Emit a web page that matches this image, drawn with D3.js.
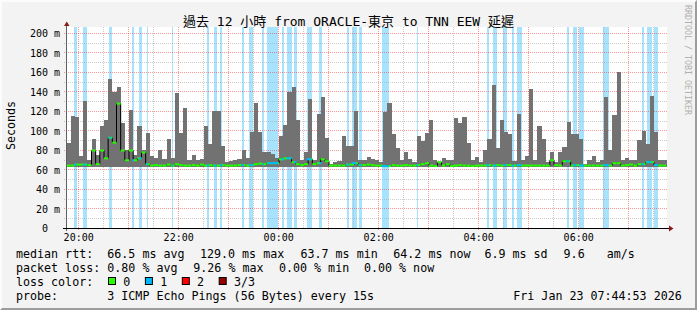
<!DOCTYPE html>
<html>
<head>
<meta charset="utf-8">
<script src="https://cdnjs.cloudflare.com/ajax/libs/d3/7.8.5/d3.min.js"></script>
<style>
body { margin: 0; background: #f3f3f3; }
svg text { font-family: "DejaVu Sans Mono", "Noto Sans CJK TC", monospace; }
</style>
</head>
<body>
<div id="chart"></div>
<script>
// graph window and 5 minute steps
const startTime = new Date(2026, 0, 22, 19, 46, 0);
const spanMinutes = 720;
const stepMinutes = 5;
const yTop = 205.1;
const smokeFloor = 63;

// top of the grey smoke per step (ms)
const smokeMax = [
  88, 115, 114, 74, 131, 70, 92, 75, 105, 111, 153, 140, 145, 108, 80, 122, 75, 105, 80, 98,
  74, 72, 80, 71, 92, 72, 139, 98, 124, 70, 75, 70, 71, 105, 87, 121, 120, 85, 68, 69,
  70, 71, 81, 72, 99, 129, 99, 78, 78, 76, 72, 95, 106, 140, 145, 111, 70, 78, 133, 70,
  117, 135, 93, 66, 68, 69, 95, 85, 85, 121, 70, 70, 73, 71, 70, 68, 119, 129, 97, 83,
  70, 78, 71, 68, 95, 90, 98, 111, 70, 68, 72, 70, 70, 113, 108, 114, 88, 70, 73, 68,
  81, 92, 147, 83, 111, 99, 97, 69, 117, 70, 74, 143, 70, 105, 92, 68, 78, 68, 78, 84,
  109, 97, 97, 92, 66, 70, 74, 68, 70, 135, 80, 116, 161, 70, 72, 70, 70, 91, 100, 87,
  136, 99, 70, 70
];

// median rtt per step (ms)
const medianRtt = [
  64.5, 64.5, 65.5, 65.5, 65.5, 65, 80, 66, 80, 72, 93, 88, 128, 80, 70, 80, 70, 72, 78, 66,
  64.5, 65, 64.5, 64.5, 65.5, 64.5, 66, 65, 64.5, 64.5, 65, 64.5, 65.5, 64.5, 65, 64.5, 64.5, 65, 64.5, 64.5,
  64.5, 65, 65, 64.5, 65, 66, 66.5, 66, 67, 67, 67, 71, 72, 72, 68, 66, 65, 66, 71, 66,
  67, 71, 69, 64.5, 64.5, 64.5, 64.5, 65.5, 65.5, 67, 65, 65, 65.5, 65, 64.5, 64.5, 64, 64, 65, 64.5,
  64.5, 65, 64.5, 64.5, 65, 66, 67, 64.5, 64, 68, 64.5, 66, 64, 64.5, 65, 64.5, 64.5, 64, 64.5, 64.5,
  64.5, 65, 64.5, 65, 64.5, 65, 65, 64.5, 65, 64.5, 64.5, 64.5, 64.5, 64.5, 64.5, 64.5, 70, 65, 64.5, 69,
  69, 64.5, 65, 64.5, 64.5, 64.5, 64.5, 64.5, 64.5, 65, 64.5, 67, 67, 64.5, 65, 65.5, 64.5, 66, 66, 68,
  68, 65, 64.5, 64.5
];

// periods with packet loss, minutes after the graph start
const lossRanges = [
  [9.0, 12.2], [20.2, 24.2], [51.4, 54.6], [79.0, 81.0], [87.0, 90.2], [96.6, 98.6],
  [126.6, 128.6], [168.6, 171.0], [177.0, 180.6], [184.8, 187.8], [210.6, 213.0], [219.4, 224.2],
  [235.0, 237.0], [241.0, 254.6], [258.6, 261.0], [264.6, 270.6], [273.0, 276.2], [288.6, 294.6],
  [303.0, 306.6], [336.2, 339.0], [342.6, 348.6], [351.4, 354.6], [378.6, 387.0], [420.2, 422.6],
  [504.2, 507.4], [512.6, 516.6], [524.6, 528.6], [534.6, 537.0], [540.6, 546.6], [600.2, 603.4],
  [608.6, 612.6], [615.4, 621.0], [644.6, 651.0], [690.2, 693.0], [696.2, 702.6], [705.0, 710.6]
];

const yTicks = [0, 20, 40, 60, 80, 100, 120, 140, 160, 180, 200];
const titleText = "過去 12 小時 from ORACLE-東京 to TNN EEW 延遲";
const rttLegend = ["66.5 ms avg", "129.0 ms max", "63.7 ms min", "64.2 ms now", "6.9 ms sd", "9.6", "am/s"];
const lossLegend = ["0.80 % avg", "9.26 % max", "0.00 % min", "0.00 % now"];
const lossColors = [["0", "#26ff00"], ["1", "#00b8ff"], ["2", "#ff0000"], ["3/3", "#990000"]];
const probeText = "3 ICMP Echo Pings (56 Bytes) every 15s";
const stampText = "Fri Jan 23 07:44:53 2026";

const lossBack = "#a8e3fd";
const smokeColor = "#727272";
const snap = v => Math.floor(v) + 0.5;
const at = m => d3.timeMinute.offset(startTime, m);

const svg = d3.select("#chart")
    .append("svg")
    .attr("width", 697)
    .attr("height", 310);

// background and 3d frame
svg.append("rect").attr("width", 697).attr("height", 310).attr("fill", "#f3f3f3");
svg.append("path").attr("d", "M0,0H697L695,2H2V308L0,310Z").attr("fill", "#fcfcfc");
svg.append("path").attr("d", "M697,0V310H0L2,308H695V2Z").attr("fill", "#9c9c9c");

const x = d3.scaleTime()
    .domain([startTime, at(spanMinutes)])
    .range([66.5, 666.5]);

const y = d3.scaleLinear()
    .domain([0, yTop])
    .range([228.5, 28.5]);

svg.append("rect")
    .attr("x", 67).attr("y", 27)
    .attr("width", 600).attr("height", 201)
    .attr("fill", "#ffffff");

// loss background columns
svg.append("g")
    .attr("shape-rendering", "crispEdges")
    .selectAll("rect")
    .data(lossRanges)
    .enter()
    .append("rect")
    .attr("x", d => x(at(d[0])))
    .attr("width", d => x(at(d[1])) - x(at(d[0])))
    .attr("y", 27)
    .attr("height", 201)
    .attr("fill", lossBack);

// grid
const grid = svg.append("g").attr("stroke-dasharray", "1,1").attr("stroke-width", 1);
const hours = d3.timeHour.range(startTime, at(spanMinutes));
const halfHours = d3.timeMinute.every(30).range(startTime, at(spanMinutes)).filter(t => t.getMinutes() === 30);

d3.range(10, 201, 10).forEach(v => {
    grid.append("line")
        .attr("x1", 64).attr("x2", 667)
        .attr("y1", snap(y(v))).attr("y2", snap(y(v)))
        .attr("stroke", v % 20 === 0 ? "#ff0000" : "#aaaaaa")
        .attr("stroke-opacity", v % 20 === 0 ? 0.4 : 0.6);
});
halfHours.forEach(t => {
    grid.append("line")
        .attr("x1", snap(x(t))).attr("x2", snap(x(t)))
        .attr("y1", 27).attr("y2", 228)
        .attr("stroke", "#aaaaaa").attr("stroke-opacity", 0.6);
});
hours.forEach(t => {
    grid.append("line")
        .attr("x1", snap(x(t))).attr("x2", snap(x(t)))
        .attr("y1", 27).attr("y2", 231)
        .attr("stroke", "#ff0000").attr("stroke-opacity", 0.4);
});

// smoke
svg.append("g")
    .attr("shape-rendering", "crispEdges")
    .selectAll("rect")
    .data(smokeMax)
    .enter()
    .append("rect")
    .attr("x", (d, i) => x(at(i * stepMinutes)))
    .attr("width", (d, i) => x(at((i + 1) * stepMinutes)) - x(at(i * stepMinutes)))
    .attr("y", d => y(d))
    .attr("height", d => y(smokeFloor) - y(d))
    .attr("fill", smokeColor);

// median: black steps, then loss coloured segments
const medianPoints = medianRtt.map((d, i) => [at(i * stepMinutes), d]);
medianPoints.push([at(spanMinutes), medianRtt[medianRtt.length - 1]]);

svg.append("path")
    .attr("d", d3.line().x(d => x(d[0])).y(d => y(d[1])).curve(d3.curveStepAfter)(medianPoints))
    .attr("fill", "none")
    .attr("stroke", "#000")
    .attr("stroke-width", 1);

svg.append("g")
    .selectAll("line")
    .data(medianRtt)
    .enter()
    .append("line")
    .attr("x1", (d, i) => x(at(i * stepMinutes)))
    .attr("x2", (d, i) => x(at((i + 1) * stepMinutes)))
    .attr("y1", d => y(d))
    .attr("y2", d => y(d))
    .attr("stroke", lossColors[0][1])
    .attr("stroke-width", 2);

svg.append("g")
    .selectAll("line")
    .data(lossRanges)
    .enter()
    .append("line")
    .attr("x1", d => x(at(d[0])))
    .attr("x2", d => x(at(d[1])))
    .attr("y1", d => y(medianRtt[Math.floor((d[0] + d[1]) / 2 / stepMinutes)]))
    .attr("y2", d => y(medianRtt[Math.floor((d[0] + d[1]) / 2 / stepMinutes)]))
    .attr("stroke", lossColors[1][1])
    .attr("stroke-width", 2);

// axes
const yAxis = svg.append("g")
    .attr("transform", "translate(66.5,0)")
    .call(d3.axisLeft(y)
        .tickValues(yTicks)
        .tickSize(0)
        .tickPadding(6.5)
        .tickFormat(d => d === 0 ? "0\u00a0\u00a0" : `${d} m`));
yAxis.select(".domain").remove();
yAxis.attr("font-family", null).attr("font-size", null)
    .selectAll("text").style("font-size", "10px").attr("fill", "#000");

const xAxis = svg.append("g")
    .attr("transform", "translate(0,228)")
    .call(d3.axisBottom(x)
        .tickValues(hours.filter(t => t.getHours() % 2 === 0))
        .tickSize(0)
        .tickPadding(5.5)
        .tickFormat(d3.timeFormat("%H:%M")));
xAxis.select(".domain").remove();
xAxis.attr("font-family", null).attr("font-size", null)
    .selectAll("text").style("font-size", "10px").attr("fill", "#000");

svg.append("line")
    .attr("x1", 66.5).attr("x2", 66.5)
    .attr("y1", 231).attr("y2", 25)
    .attr("stroke", "#606060");
svg.append("line")
    .attr("x1", 63).attr("x2", 670)
    .attr("y1", 228.5).attr("y2", 228.5)
    .attr("stroke", "#000");
svg.append("path").attr("d", "M64,26L69.5,26L66.75,21.5Z").attr("fill", "#8b1a1a");
svg.append("path").attr("d", "M669,225.5L669,231.5L673.5,228.5Z").attr("fill", "#8b1a1a");

// titles
svg.append("text")
    .attr("x", 348.5).attr("y", 26)
    .attr("text-anchor", "middle")
    .style("font-size", "13px")
    .attr("fill", "#000")
    .text(titleText);

svg.append("text")
    .attr("transform", "translate(14.5,125.5) rotate(-90)")
    .attr("text-anchor", "middle")
    .style("font-size", "11.66px")
    .attr("fill", "#000")
    .text("Seconds");

svg.append("text")
    .attr("transform", "translate(684.5,5) rotate(90)")
    .style("font-size", "8.3px")
    .attr("fill", "#b0b0b0")
    .text("RRDTOOL / TOBI OETIKER");

// legend
const legend = svg.append("g").style("font-size", "11.66px").attr("fill", "#000");
const put = (px, py, s) => legend.append("text").attr("x", px).attr("y", py).text(s);

put(16, 258, "median rtt:");
[107.3, 200, 300.5, 393.3, 484.4, 563.6, 606.7].forEach((px, i) => put(px, 258, rttLegend[i]));

put(16, 272.2, "packet loss:");
[107.3, 193.3, 279, 364].forEach((px, i) => put(px, 272.2, lossLegend[i]));

put(16, 286.3, "loss color:");
lossColors.forEach((c, i) => {
    const bx = 108.5 + i * 36.9;
    legend.append("rect")
        .attr("x", bx).attr("y", 277.5)
        .attr("width", 7).attr("height", 7)
        .attr("fill", c[1])
        .attr("stroke", "#000");
    put(bx + 14.8, 286.3, c[0]);
});

put(16, 300.3, "probe:");
put(107.3, 300.3, probeText);
put(513.3, 300.3, stampText);
</script>
</body>
</html>
